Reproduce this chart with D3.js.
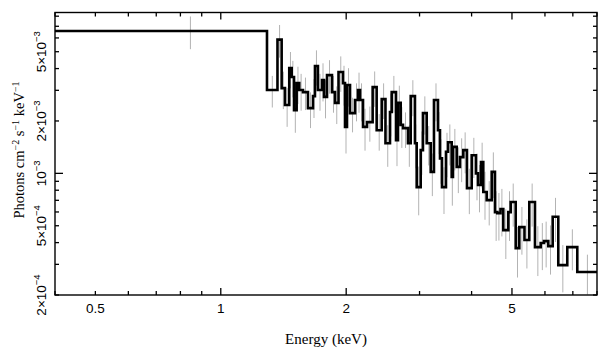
<!DOCTYPE html>
<html><head><meta charset="utf-8">
<script src="https://cdn.jsdelivr.net/npm/d3@7"></script>
<style>body{margin:0;background:#fff}svg{display:block}</style>
</head><body><svg id="c" width="609" height="357"></svg>
<script>
// Bin edges in keV (86 edges -> 85 bins)
const binEdges = [0.4, 1.291, 1.368, 1.400, 1.426, 1.460, 1.480, 1.499, 1.521, 1.543, 1.575, 1.619, 1.665, 1.683, 1.711, 1.750, 1.769, 1.799, 1.849, 1.880, 1.917, 1.965, 1.987, 2.009, 2.043, 2.100, 2.135, 2.159, 2.195, 2.244, 2.315, 2.367, 2.434, 2.485, 2.548, 2.572, 2.634, 2.663, 2.703, 2.738, 2.814, 2.857, 2.925, 2.953, 3.019, 3.057, 3.121, 3.191, 3.249, 3.322, 3.359, 3.396, 3.472, 3.511, 3.583, 3.609, 3.684, 3.751, 3.821, 3.899, 4.002, 4.098, 4.144, 4.213, 4.267, 4.348, 4.470, 4.552, 4.611, 4.693, 4.766, 4.900, 4.965, 5.104, 5.207, 5.358, 5.502, 5.678, 5.860, 5.968, 6.112, 6.262, 6.459, 6.788, 7.174, 8.0];
// Flux per bin, in units of 1e-3 photons cm^-2 s^-1 keV^-1
const flux = [6.57, 3.01, 5.87, 3.09, 2.47, 4.03, 3.58, 2.31, 3.30, 3.01, 2.93, 2.37, 2.78, 4.14, 3.01, 3.44, 2.75, 3.67, 2.93, 2.54, 3.82, 3.30, 1.85, 3.22, 2.22, 2.64, 3.01, 2.64, 1.85, 1.97, 3.13, 1.77, 2.67, 1.49, 2.25, 2.93, 1.55, 2.54, 1.90, 1.82, 1.49, 2.78, 1.49, 0.834, 1.36, 2.22, 1.49, 1.02, 2.64, 1.77, 1.22, 0.834, 1.33, 1.51, 0.952, 1.42, 1.09, 1.24, 1.36, 0.823, 1.27, 1.00, 0.857, 1.16, 0.781, 0.702, 1.02, 0.599, 0.591, 0.624, 0.472, 0.599, 0.684, 0.372, 0.491, 0.414, 0.684, 0.377, 0.398, 0.408, 0.382, 0.563, 0.297, 0.377, 0.271];
// 1-sigma errors per bin, same units
const fluxErr = [1.40, 0.62, 1.25, 0.75, 0.62, 0.95, 0.85, 0.60, 0.80, 0.72, 0.62, 0.55, 0.70, 0.95, 0.72, 0.85, 0.68, 0.80, 0.70, 0.62, 0.88, 0.85, 0.55, 0.80, 0.50, 0.65, 0.78, 0.65, 0.50, 0.45, 0.72, 0.42, 0.62, 0.40, 0.62, 0.70, 0.45, 0.65, 0.50, 0.42, 0.40, 0.65, 0.42, 0.26, 0.38, 0.55, 0.38, 0.28, 0.65, 0.48, 0.35, 0.25, 0.38, 0.40, 0.30, 0.38, 0.32, 0.35, 0.36, 0.24, 0.33, 0.30, 0.26, 0.34, 0.24, 0.20, 0.30, 0.19, 0.18, 0.19, 0.15, 0.19, 0.19, 0.12, 0.15, 0.13, 0.19, 0.12, 0.12, 0.12, 0.12, 0.16, 0.09, 0.10, 0.07];
const fluxUnit = 1e-3;

const xTickLabels = [0.5, 1, 2, 5];
const xMinorTicks = [0.4, 0.5, 0.6, 0.7, 0.8, 0.9, 1, 2, 3, 4, 5, 6, 7, 8];
const yTickValues = [2e-4, 5e-4, 1e-3, 2e-3, 5e-3];
const yTickMant = ["2×", "5×", "", "2×", "5×"];
const yTickExp = ["−4", "−4", "−3", "−3", "−3"];
const yMinorTicks = [2e-4, 3e-4, 4e-4, 5e-4, 6e-4, 7e-4, 8e-4, 9e-4, 1e-3, 2e-3, 3e-3, 4e-3, 5e-3, 6e-3, 7e-3, 8e-3];

const L = 55, R = 597, T = 12.5, B = 295;
const x = d3.scaleLog().domain([0.4, 8]).range([L, R]);
const y = d3.scaleLog().domain([2e-4, 8.4e-3]).range([B, T]);

const svg = d3.select("#c");
svg.append("defs").append("clipPath").attr("id", "clip")
  .append("rect").attr("x", L).attr("y", T).attr("width", R - L).attr("height", B - T);

const bins = flux.map((v, i) => ({lo: binEdges[i], hi: binEdges[i + 1], v: v * fluxUnit, e: fluxErr[i] * fluxUnit}));

const plot = svg.append("g").attr("clip-path", "url(#clip)");
// error bars at linear bin centre
plot.selectAll("line.err").data(bins).enter().append("line")
  .attr("x1", d => x((d.lo + d.hi) / 2)).attr("x2", d => x((d.lo + d.hi) / 2))
  .attr("y1", d => y(d.v + d.e)).attr("y2", d => y(Math.max(d.v - d.e, 1e-5)))
  .attr("stroke", "#b3b3b3").attr("stroke-width", 1);

const pts = [];
bins.forEach(d => { pts.push([d.lo, d.v]); pts.push([d.hi, d.v]); });
plot.append("path").attr("d", d3.line().x(d => x(d[0])).y(d => y(d[1]))(pts))
  .attr("fill", "none").attr("stroke", "#000").attr("stroke-width", 2.6)
  .attr("stroke-linejoin", "miter");

// frame
svg.append("rect").attr("x", L).attr("y", T).attr("width", R - L).attr("height", B - T)
  .attr("fill", "none").attr("stroke", "#000").attr("stroke-width", 1.4);

const tk = svg.append("g").attr("stroke", "#000").attr("stroke-width", 1.3);
const xLong = new Set([1, 2, 5]);
xMinorTicks.forEach(t => {
  const len = xLong.has(t) ? 7 : 4;
  tk.append("line").attr("x1", x(t)).attr("x2", x(t)).attr("y1", B).attr("y2", B - len);
  tk.append("line").attr("x1", x(t)).attr("x2", x(t)).attr("y1", T).attr("y2", T + len);
});
yMinorTicks.forEach(t => {
  const len = (t === 1e-3) ? 8 : 4;
  tk.append("line").attr("y1", y(t)).attr("y2", y(t)).attr("x1", L).attr("x2", L + len);
  tk.append("line").attr("y1", y(t)).attr("y2", y(t)).attr("x1", R).attr("x2", R - len);
});

// x tick labels
svg.append("g").selectAll("text").data(xTickLabels).enter().append("text")
  .attr("x", d => x(d)).attr("y", 313).attr("text-anchor", "middle")
  .attr("font-family", "Liberation Sans, Arial, sans-serif").attr("font-size", 13.5)
  .text(d => d);

// y tick labels (rotated)
yTickValues.forEach((v, i) => {
  const t = svg.append("text")
    .attr("transform", `translate(46,${y(v)}) rotate(-90)`)
    .attr("text-anchor", "middle")
    .attr("font-family", "Liberation Sans, Arial, sans-serif").attr("font-size", 13.5);
  t.append("tspan").text(yTickMant[i] + "10");
  t.append("tspan").attr("dy", -6).attr("font-size", 9.5).text(yTickExp[i]);
});

// axis titles
svg.append("text").attr("x", (L + R) / 2).attr("y", 344).attr("text-anchor", "middle")
  .attr("font-family", "Liberation Serif, Times New Roman, serif").attr("font-size", 15)
  .text("Energy (keV)");

const yt = svg.append("text").attr("transform", `translate(24,150) rotate(-90)`)
  .attr("text-anchor", "middle")
  .attr("font-family", "Liberation Serif, Times New Roman, serif").attr("font-size", 14.5);
yt.append("tspan").text("Photons cm");
yt.append("tspan").attr("dy", -5).attr("font-size", 10).text("−2");
yt.append("tspan").attr("dy", 5).text(" s");
yt.append("tspan").attr("dy", -5).attr("font-size", 10).text("−1");
yt.append("tspan").attr("dy", 5).text(" keV");
yt.append("tspan").attr("dy", -5).attr("font-size", 10).text("−1");
</script>
</body></html>
